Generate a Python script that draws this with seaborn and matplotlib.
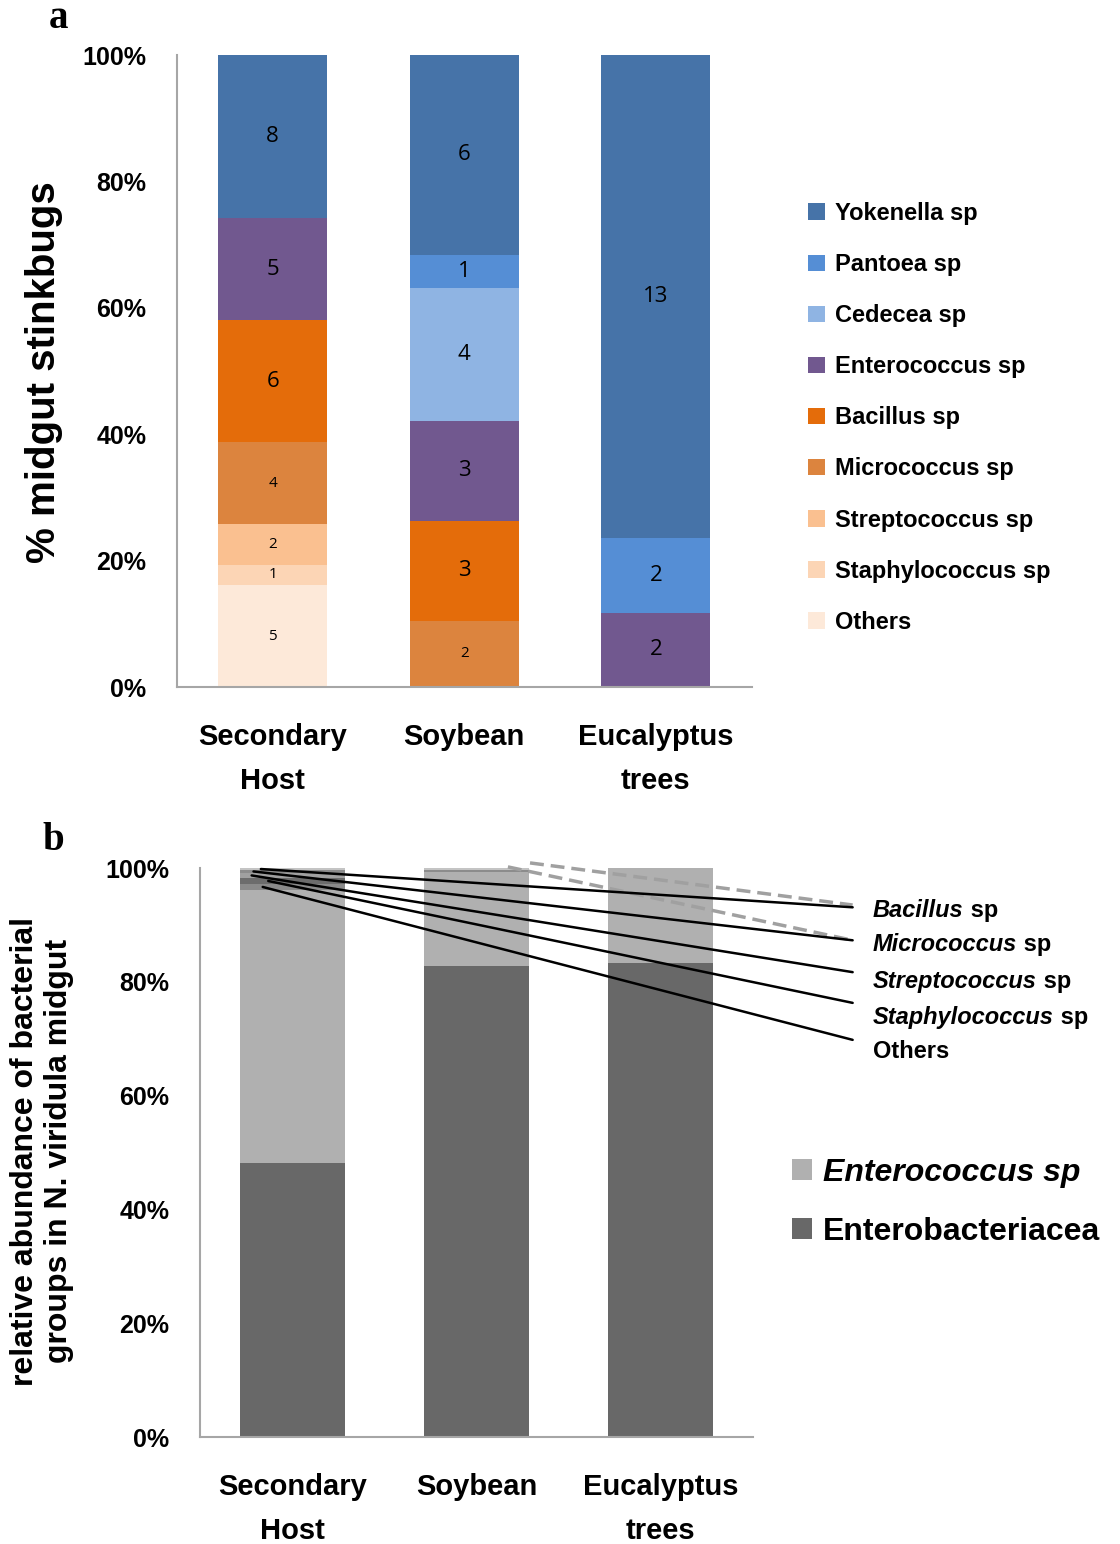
import numpy as np
import pandas as pd
import matplotlib
matplotlib.use('Agg')
import matplotlib.pyplot as plt
from matplotlib.patches import Patch
import seaborn as sns

# ---- data ----
hosts = ['Secondary\nHost', 'Soybean', 'Eucalyptus\ntrees']

# panel a: number of stinkbugs per dominant genus (stacked bottom -> top)
genera_a = ['Others', 'Staphylococcus sp', 'Streptococcus sp', 'Micrococcus sp',
            'Bacillus sp', 'Enterococcus sp', 'Cedecea sp', 'Pantoea sp', 'Yokenella sp']
counts_secondary = [5, 1, 2, 4, 6, 5, 0, 0, 8]
counts_soybean = [0, 0, 0, 2, 3, 3, 4, 1, 6]
counts_eucalyptus = [0, 0, 0, 0, 0, 2, 0, 2, 13]
small_label_genera = ['Others', 'Staphylococcus sp', 'Streptococcus sp', 'Micrococcus sp']

# panel b: relative abundance (%) of bacterial groups (stacked bottom -> top)
groups_b = ['Enterobacteriacea', 'Enterococcus sp', 'Others', 'Staphylococcus sp',
            'Streptococcus sp', 'Micrococcus sp', 'Bacillus sp']
abund_secondary = [48.2, 47.95, 1.05, 1.05, 0.9, 0.5, 0.35]
abund_soybean = [82.7, 16.6, 0.0, 0.0, 0.0, 0.4, 0.3]
abund_eucalyptus = [83.3, 16.7, 0.0, 0.0, 0.0, 0.0, 0.0]
leader_groups = ['Bacillus sp', 'Micrococcus sp', 'Streptococcus sp', 'Staphylococcus sp', 'Others']

# ---- styles ----
colors_a = {
    'Yokenella sp': '#4673a8', 'Pantoea sp': '#558ed5', 'Cedecea sp': '#8fb4e3',
    'Enterococcus sp': '#71588f', 'Bacillus sp': '#e46c0a', 'Micrococcus sp': '#dc843e',
    'Streptococcus sp': '#fac090', 'Staphylococcus sp': '#fcd5b5', 'Others': '#fde9d9',
}
colors_b = {
    'Enterobacteriacea': '#686868', 'Enterococcus sp': '#b0b0b0', 'Others': '#8a8a8a',
    'Staphylococcus sp': '#6c6c6c', 'Streptococcus sp': '#a0a0a0',
    'Micrococcus sp': '#8c8c8c', 'Bacillus sp': '#c4c4c4',
}
axis_gray = '#a6a6a6'
bar_width = 0.57
tick_size = 18
cat_size = 21

sns.set_style('white')
plt.rcParams['font.family'] = ['Liberation Sans', 'DejaVu Sans']
plt.rcParams['text.color'] = 'black'
plt.rcParams['xtick.labelcolor'] = 'black'
plt.rcParams['ytick.labelcolor'] = 'black'

table_a = pd.DataFrame([counts_secondary, counts_soybean, counts_eucalyptus],
                       index=hosts, columns=genera_a)
pct_a = table_a.div(table_a.sum(axis=1), axis=0) * 100
table_b = pd.DataFrame([abund_secondary, abund_soybean, abund_eucalyptus],
                       index=hosts, columns=groups_b)


def stacked(ax, table, groups, colors):
    cum = table[groups].cumsum(axis=1)
    for g in reversed(groups):
        sns.barplot(x=hosts, y=cum[g].values, order=hosts, color=colors[g],
                    width=bar_width, saturation=1, linewidth=0, errorbar=None, ax=ax)
    return cum


def style_axes(ax, cat_pad):
    ax.set_xlim(-0.5, 2.5)
    ax.set_ylim(0, 100)
    for s in ['top', 'right']:
        ax.spines[s].set_visible(False)
    for s in ['left', 'bottom']:
        ax.spines[s].set_color(axis_gray)
        ax.spines[s].set_linewidth(1.5)
    ax.set_yticks(range(0, 101, 20))
    ax.set_yticklabels([f'{v}%' for v in range(0, 101, 20)], fontsize=tick_size,
                       fontweight='bold')
    ax.set_xticks([-0.5, 0.5, 1.5, 2.5])
    ax.set_xticklabels([])
    ax.set_xticks([0, 1, 2], minor=True)
    ax.set_xticklabels(hosts, minor=True, fontsize=cat_size, fontweight='bold')
    for lab in ax.get_xticklabels(minor=True):
        lab.set_linespacing(1.7)
    ax.tick_params(axis='both', which='major', length=7, width=1.5, color=axis_gray,
                   labelcolor='black', direction='out', pad=15)
    ax.tick_params(axis='x', which='minor', length=0, pad=cat_pad, labelcolor='black')
    ax.set_xlabel('')
    ax.set_ylabel('')


fig = plt.figure(figsize=(11.2, 15.44), dpi=100)
ax_a = fig.add_axes([0.158, 0.555, 0.513, 0.4093])
ax_b = fig.add_axes([0.1786, 0.0693, 0.4938, 0.3685])

# ---- panel a ----
cum_a = stacked(ax_a, pct_a, genera_a, colors_a)
style_axes(ax_a, 26)
for i, h in enumerate(hosts):
    for g in genera_a:
        n = table_a.loc[h, g]
        if n > 0:
            y = cum_a.loc[h, g] - pct_a.loc[h, g] / 2
            size = 11 if g in small_label_genera else 16
            ax_a.text(i, y, str(n), ha='center', va='center', fontsize=size, color='black',
                      family='Open Sans')

handles_a = [Patch(facecolor=colors_a[g], edgecolor='none') for g in reversed(genera_a)]
fig.legend(handles_a, list(reversed(genera_a)), loc='upper left',
           bbox_to_anchor=(808 / 1120, 1 - 202 / 1544), frameon=False,
           prop={'size': 17, 'weight': 'bold'}, handlelength=0.7, handleheight=0.7,
           handletextpad=0.45, labelspacing=1.19, borderpad=0, borderaxespad=0)

fig.text(44 / 1120, 1 - 372 / 1544, '% midgut stinkbugs', rotation=90, ha='center',
         va='center', fontsize=29, fontweight='bold')
fig.text(58 / 1120, 1 - 18 / 1544, 'a', ha='center', va='center', fontsize=28,
         fontweight='bold', family='Liberation Serif')

# ---- panel b ----
cum_b = stacked(ax_b, table_b, groups_b, colors_b)
style_axes(ax_b, 26)

# leader lines from the thin segments of the secondary host bar
start_x = [-0.17, -0.21, -0.22, -0.13, -0.16]
end_x = 3.04
end_y = [93.1, 87.3, 81.7, 76.3, 69.8]
label_x = 3.15
label_y = [92.6, 86.5, 80.1, 73.8, 67.7]
sec = hosts[0]
for g, sx, ey, ly in zip(leader_groups, start_x, end_y, label_y):
    sy = cum_b.loc[sec, g] - table_b.loc[sec, g] / 2
    ax_b.plot([sx, end_x], [sy, ey], color='black', lw=1.8, clip_on=False, zorder=5)
    name = g.replace(' sp', '')
    if g == 'Others':
        ax_b.text(label_x, ly, name, ha='left', va='center', fontsize=17,
                  fontweight='bold', clip_on=False)
    else:
        t = ax_b.text(label_x, ly, name, ha='left', va='center', fontsize=17,
                      fontweight='bold', style='italic', clip_on=False)
        ax_b.annotate(' sp', xy=(1, 0), xycoords=t, ha='left', va='bottom',
                      fontsize=17, fontweight='bold', annotation_clip=False)

# dashed leaders from the soybean bar top
dash_start = [(1.29, 100.9), (1.17, 100.2)]
dash_end = [(3.04, 93.5), (3.04, 87.3)]
for (x0, y0), (x1, y1) in zip(dash_start, dash_end):
    ax_b.plot([x0, x1], [y0, y1], color='#a0a0a0', lw=2.5, ls=(0, (4, 2)),
              clip_on=False, zorder=4)

handles_b = [Patch(facecolor=colors_b['Enterococcus sp'], edgecolor='none'),
             Patch(facecolor=colors_b['Enterobacteriacea'], edgecolor='none')]
leg_b = fig.legend(handles_b, ['Enterococcus sp', 'Enterobacteriacea'], loc='upper left',
                   bbox_to_anchor=(792 / 1120, 1 - 1158 / 1544), frameon=False,
                   prop={'size': 23, 'weight': 'bold'}, handlelength=0.62, handleheight=0.62,
                   handletextpad=0.35, labelspacing=0.9, borderpad=0, borderaxespad=0)
leg_b.get_texts()[0].set_style('italic')

fig.text(42 / 1120, 1 - 1151 / 1544,
         'relative abundance of bacterial\ngroups in N. viridula midgut',
         rotation=90, ha='center', va='center', fontsize=23, fontweight='bold',
         linespacing=1.2, multialignment='center')
fig.text(53 / 1120, 1 - 840 / 1544, 'b', ha='center', va='center', fontsize=28,
         fontweight='bold', family='Liberation Serif')

fig.savefig('out.png', dpi=100)
